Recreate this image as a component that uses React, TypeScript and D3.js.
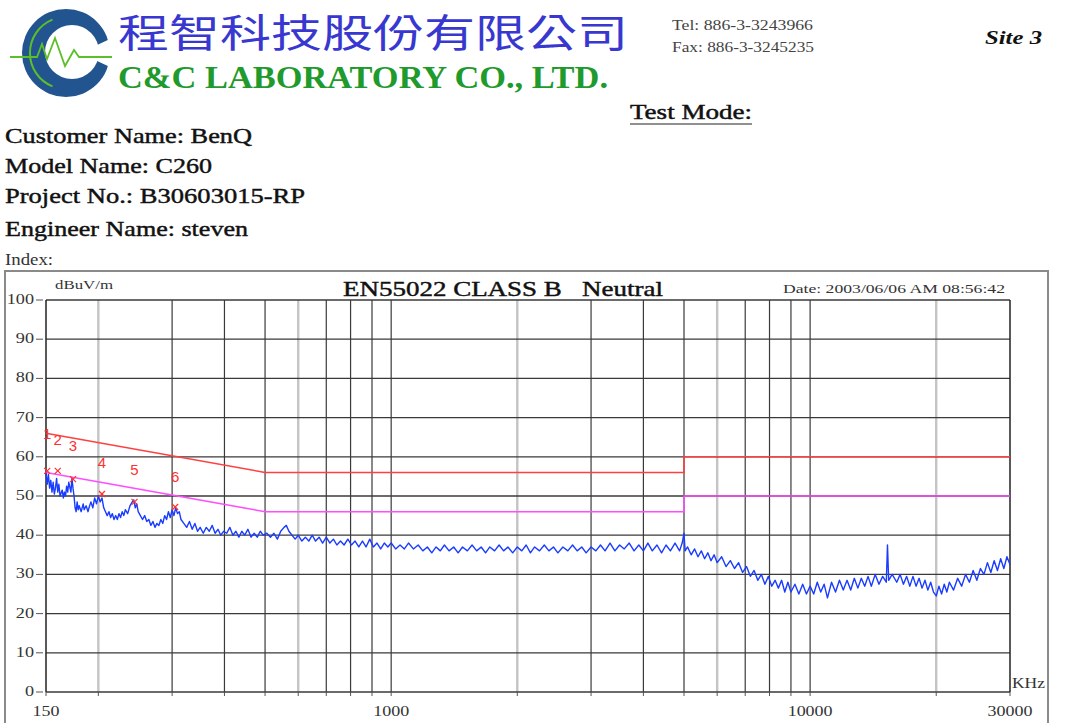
import React from 'react';
import * as d3 from 'd3';

const W = 1076;
const H = 723;

// ---- axis values ----
const yTickValues = [0, 10, 20, 30, 40, 50, 60, 70, 80, 90, 100];
const xLabelValues = [150, 1000, 10000, 30000];
const xGridValues = [200, 300, 400, 500, 600, 700, 800, 900, 1000, 2000, 3000, 4000, 5000, 6000, 7000, 8000, 9000, 10000, 20000];
const xLightGrid = [200, 600, 2000, 6000, 20000];

// ---- EN55022 class B limits (kHz, dBuV) ----
const qpLimit: [number, number][] = [[150, 66], [500, 56], [5000, 56], [5000, 60], [30000, 60]];
const avgLimit: [number, number][] = [[150, 56], [500, 46], [5000, 46], [5000, 50], [30000, 50]];

// ---- markers ----
const markerNumbers = [1, 2, 3, 4, 5, 6];
const markerFreq = [151, 160, 174, 204, 244, 305];
const markerReading = [56.4, 56.4, 54.3, 50.5, 48.5, 47.2];
const markerLabelLevel = [65.8, 64.3, 62.8, 58.4, 56.6, 54.8];

// ---- measured trace (kHz, dBuV) ----
const trace: [number, number][] = [
  [150, 56], [151, 53], [152, 55.5], [153, 52], [154, 54], [155, 51], [156, 53.5], [157, 50.5], [158, 52], [159, 54.5],
  [160, 51], [161, 53], [162, 50], [164, 51.5], [165, 49.5], [166, 51], [167, 50], [168, 52.5], [169, 51], [170, 53.5],
  [172, 51], [173, 54.5], [174, 52], [175, 50], [176, 47], [177, 46], [178, 48.5], [179, 46.5], [180, 47.5], [182, 46],
  [184, 48], [185, 46.5], [187, 47.5], [189, 46], [190, 47], [192, 48.5], [194, 47], [196, 49.5], [198, 48], [200, 50],
  [202, 48.5], [204, 49.5], [206, 47], [208, 46], [210, 45], [212, 46], [214, 44.5], [216, 45.5], [218, 44], [220, 45],
  [222, 44], [224, 45.5], [226, 44.5], [228, 46], [230, 45], [232, 46.5], [235, 45.5], [238, 47.5], [241, 48.5], [243, 49],
  [245, 47], [247, 48], [249, 46], [252, 45], [255, 44], [258, 45], [261, 43.5], [264, 44], [267, 42.5], [270, 43.5],
  [273, 42], [276, 43], [279, 42.5], [282, 44], [285, 43], [288, 45], [291, 44], [294, 46], [297, 44.5], [300, 46.5],
  [303, 45], [306, 47], [309, 45.5], [312, 46], [315, 44], [320, 43], [325, 42], [330, 43.5], [335, 41.5], [340, 43],
  [345, 41], [350, 42], [356, 40.5], [362, 42], [368, 41], [374, 42.5], [380, 40.5], [386, 41.5], [392, 40], [398, 41],
  [405, 40.5], [412, 42], [419, 40], [426, 41], [433, 39.5], [440, 41], [447, 40], [455, 41.5], [463, 39.5], [471, 40.5],
  [479, 39.5], [487, 41], [495, 40], [505, 40.5], [515, 39.5], [525, 40.5], [535, 39], [545, 41], [555, 42], [562, 42.5],
  [570, 41], [580, 40], [590, 39], [600, 40], [612, 38.5], [624, 39.5], [636, 38.5], [648, 40], [660, 38.5], [673, 39.5],
  [686, 38], [700, 39.5], [714, 38], [728, 39], [742, 37.5], [757, 38.5], [772, 37.5], [788, 39], [804, 37.5], [820, 38.5],
  [837, 37], [854, 38.5], [871, 37], [889, 39], [907, 37], [925, 38], [944, 36.5], [963, 38], [982, 37], [1000, 38],
  [1025, 36.5], [1050, 37.5], [1075, 36.5], [1100, 38], [1130, 36.5], [1160, 37.5], [1190, 36], [1220, 37], [1250, 35.5], [1280, 37],
  [1310, 36], [1340, 37.5], [1375, 36], [1410, 37], [1445, 35.5], [1480, 37], [1520, 36], [1560, 37.5], [1600, 36], [1640, 37],
  [1680, 35.5], [1720, 37], [1765, 36], [1810, 37.5], [1855, 36], [1900, 37], [1950, 35.5], [2000, 37], [2050, 36], [2100, 37.5],
  [2150, 35.5], [2200, 37], [2260, 36], [2320, 37.5], [2380, 36], [2440, 37], [2500, 35.5], [2570, 37], [2640, 36], [2710, 37.5],
  [2780, 36], [2850, 37], [2920, 35.5], [3000, 37], [3080, 36], [3160, 37.5], [3240, 36], [3330, 38], [3420, 36], [3510, 37.5],
  [3600, 36.5], [3700, 38], [3800, 36], [3900, 37.5], [4000, 36], [4100, 38], [4200, 36], [4310, 37.5], [4420, 35.5], [4530, 37.5],
  [4640, 36], [4760, 38], [4880, 36], [4950, 38], [5000, 40.5], [5030, 36], [5100, 37], [5200, 35], [5300, 36.5], [5400, 34.5],
  [5500, 36], [5600, 34], [5700, 35.5], [5800, 33.5], [5900, 35], [6000, 33], [6150, 34.5], [6300, 32], [6450, 33.5], [6600, 31.5],
  [6750, 33], [6900, 30.5], [7050, 32], [7200, 29.5], [7350, 31], [7500, 28.5], [7650, 30], [7800, 27.5], [7950, 29.5], [8100, 27],
  [8250, 28.5], [8400, 26.5], [8550, 28.5], [8700, 25.5], [8850, 28], [9000, 25.5], [9200, 27.5], [9400, 25], [9600, 27.5], [9800, 25],
  [10000, 27], [10200, 25], [10400, 28], [10600, 25.5], [10800, 27.5], [11000, 24], [11250, 28], [11500, 25.5], [11750, 28.5], [12000, 26],
  [12250, 28.5], [12500, 26], [12750, 29], [13000, 26.5], [13250, 29], [13500, 27], [13750, 29.5], [14000, 27], [14300, 30], [14600, 27.5],
  [14900, 29.5], [15200, 28], [15300, 37.5], [15400, 28.5], [15700, 30], [16100, 28], [16400, 30], [16700, 27.5], [17000, 29.5], [17300, 27],
  [17600, 29.5], [17900, 27], [18200, 29], [18500, 26.5], [18800, 28.5], [19100, 26], [19400, 28], [19700, 25.5], [20000, 24.5], [20300, 27],
  [20600, 25], [20900, 27.5], [21200, 25.5], [21500, 28], [22000, 26], [22500, 29], [23000, 27], [23500, 30], [24000, 28], [24500, 31],
  [25000, 28.5], [25500, 31.5], [26000, 30], [26500, 33], [27000, 30.5], [27500, 33.5], [28000, 31], [28500, 34], [29000, 31.5], [29500, 34.5],
  [30000, 32.5],
];

const SERIF = '"Liberation Serif", "Times New Roman", serif';

type TProps = {
  x: number; y: number; size: number; len?: number; children: React.ReactNode;
  weight?: string | number; fill?: string; family?: string; italic?: boolean; anchor?: string; heavy?: boolean;
};
const T = ({ x, y, size, len, children, weight, fill, family, italic, anchor, heavy }: TProps) => (
  <text
    x={x}
    y={y}
    fontSize={size}
    fontFamily={family || SERIF}
    fontWeight={weight || 'normal'}
    fontStyle={italic ? 'italic' : 'normal'}
    fill={fill || '#111'}
    stroke={heavy ? fill || '#111' : undefined}
    strokeWidth={heavy ? 0.45 : undefined}
    textAnchor={anchor || 'start'}
    textLength={len}
    lengthAdjust={len ? 'spacingAndGlyphs' : undefined}
    style={{ whiteSpace: 'pre' }}
  >
    {children}
  </text>
);

export default function App() {
  const x = d3.scaleLog().domain([150, 30000]).range([46, 1010]);
  const y = d3.scaleLinear().domain([0, 100]).range([692, 300]);
  const line = d3.line<[number, number]>().x((d) => x(d[0])).y((d) => y(d[1]));

  const [x0, x1] = x.range();
  const [yb, yt] = y.range();

  const ring =
    'M 22 53 a 44 44 0 1 0 88 0 a 44 44 0 1 0 -88 0 Z ' +
    'M 45 52 a 27 27 0 1 0 54 0 a 27 27 0 1 0 -54 0 Z';

  return (
    <svg
      width={W}
      height={H}
      viewBox={`0 0 ${W} ${H}`}
      style={{ position: 'absolute', left: 0, top: 0, background: '#fff' }}
    >
      <defs>
        <clipPath id="cgap">
          <polygon points="0,0 125,0 125,32 80,53 125,74 125,110 0,110" />
        </clipPath>
      </defs>
      <rect x={0} y={0} width={W} height={H} fill="#fff" />

      {/* ---- logo ---- */}
      <path d={ring} fill="#22558f" fillRule="evenodd" clipPath="url(#cgap)" />
      <path d="M 52.5 86.4 A 36 36 0 0 1 52.5 19.6" fill="none" stroke="#5cbf2a" strokeWidth={2} />
      <polyline
        points="10,57 37,57 42,44 47,59 55,38 65,66 74,50 79,57 112,57"
        fill="none"
        stroke="#5cbf2a"
        strokeWidth={1.8}
      />
      <T x={118} y={47} size={39} len={510} fill="#3838d0" family={'"Noto Sans CJK TC", "Noto Sans CJK SC", sans-serif'}>
        程智科技股份有限公司
      </T>
      <T x={118} y={88} size={31} len={490} weight="bold" fill="#1f9a2c">
        C&amp;C LABORATORY CO., LTD.
      </T>
      <T x={672} y={30} size={14} len={141} fill="#444">Tel: 886-3-3243966</T>
      <T x={672} y={52} size={14} len={142} fill="#444">Fax: 886-3-3245235</T>
      <T x={985} y={44} size={19} len={57} weight="bold" italic fill="#111">Site 3</T>

      <T x={630} y={119} size={21} len={122} heavy>Test Mode:</T>
      <line x1={630} x2={752} y1={124} y2={124} stroke="#222" strokeWidth={1.2} />

      <T x={5} y={143} size={22} len={247} heavy>Customer Name: BenQ</T>
      <T x={5} y={173} size={22} len={207} heavy>Model Name: C260</T>
      <T x={5} y={203} size={22} len={300} heavy>Project No.: B30603015-RP</T>
      <T x={5} y={236} size={22} len={243} heavy>Engineer Name: steven</T>
      <T x={5} y={265} size={17} len={48} fill="#333">Index:</T>

      {/* ---- chart frame ---- */}
      <path d={`M 5 ${H} V 271 H 1048 V ${H}`} fill="none" stroke="#8a8a8a" strokeWidth={2} />

      <T x={55} y={289} size={12} len={58} fill="#333">dBuV/m</T>
      <T x={343} y={296} size={22} len={320} heavy>EN55022 CLASS B   Neutral</T>
      <T x={783} y={293} size={13} len={222} fill="#333">Date: 2003/06/06 AM 08:56:42</T>

      {/* vertical grid */}
      {xGridValues.map((v) => {
        const light = xLightGrid.includes(v);
        return (
          <line
            key={'vg' + v}
            x1={x(v)}
            x2={x(v)}
            y1={yt}
            y2={yb}
            stroke={light ? '#c4c4c4' : '#3a3a3a'}
            strokeWidth={light ? 2.4 : 1.2}
          />
        );
      })}
      {/* horizontal grid */}
      {yTickValues.map((v) => (
        <line key={'hg' + v} x1={x0} x2={x1} y1={y(v)} y2={y(v)} stroke="#3a3a3a" strokeWidth={1.3} />
      ))}
      <line x1={x0} x2={x0} y1={yt} y2={yb} stroke="#222" strokeWidth={1.5} />
      <line x1={x1} x2={x1} y1={yt} y2={yb} stroke="#222" strokeWidth={1.5} />

      {/* y ticks + labels */}
      {yTickValues.map((v) => (
        <g key={'yt' + v}>
          <line x1={36} x2={43} y1={y(v)} y2={y(v)} stroke="#555" strokeWidth={1} />
          <text
            transform={`translate(34,${y(v) + 4}) scale(1.3,1)`}
            textAnchor="end"
            fontSize={14}
            fontFamily={SERIF}
            fill="#333"
          >
            {v}
          </text>
        </g>
      ))}
      {/* x ticks + labels */}
      {[150, ...xGridValues, 30000].map((v) => (
        <line key={'xt' + v} x1={x(v)} x2={x(v)} y1={yb} y2={yb + 4} stroke="#555" strokeWidth={1} />
      ))}
      {xLabelValues.map((v) => (
        <text
          key={'xl' + v}
          transform={`translate(${x(v)},716) scale(1.2,1)`}
          textAnchor="middle"
          fontSize={15}
          fontFamily={SERIF}
          fill="#333"
        >
          {v}
        </text>
      ))}
      <T x={1012} y={688} size={14} len={33} fill="#333">KHz</T>

      {/* limits */}
      <path d={line(qpLimit) || ''} fill="none" stroke="#ff4040" strokeWidth={1.5} />
      <path d={line(avgLimit) || ''} fill="none" stroke="#ff4dff" strokeWidth={1.5} />

      {/* trace */}
      <path d={line(trace) || ''} fill="none" stroke="#1a3cff" strokeWidth={1.4} strokeLinejoin="round" />

      {/* markers */}
      {markerNumbers.map((n, i) => {
        const mx = x(markerFreq[i]);
        const my = y(markerReading[i]);
        return (
          <g key={'m' + n}>
            <line x1={mx - 3} x2={mx + 3} y1={my - 3} y2={my + 3} stroke="#ff3030" strokeWidth={1.2} />
            <line x1={mx - 3} x2={mx + 3} y1={my + 3} y2={my - 3} stroke="#ff3030" strokeWidth={1.2} />
            <text
              x={mx}
              y={y(markerLabelLevel[i]) + 5}
              textAnchor="middle"
              fontSize={15}
              fontFamily='"Liberation Sans", Arial, sans-serif'
              fill="#ff3030"
            >
              {n}
            </text>
          </g>
        );
      })}
    </svg>
  );
}
